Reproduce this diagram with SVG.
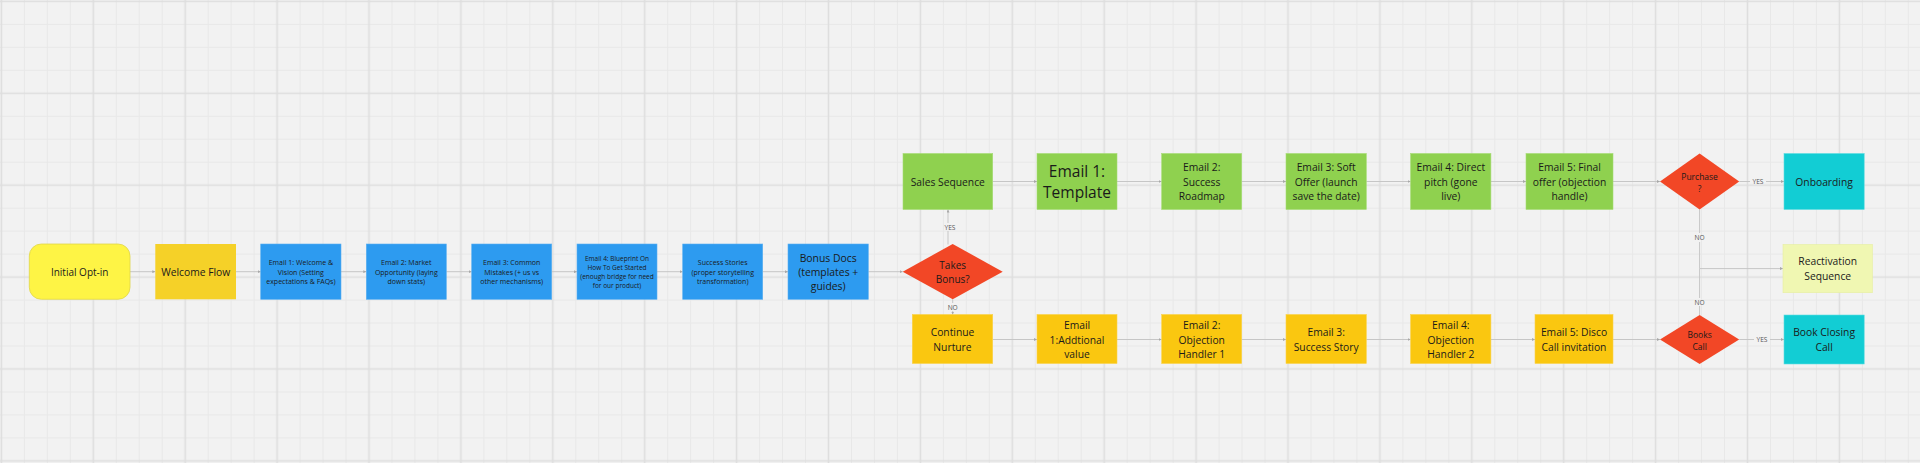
<svg xmlns="http://www.w3.org/2000/svg" width="1920" height="463" viewBox="0 0 1920 463">
<defs>
<pattern id="grid" x="-56.04" y="-56.04" width="91.9" height="91.9" patternUnits="userSpaceOnUse">
<rect width="91.9" height="91.9" fill="#f2f2f2"/>
<path d="M11.49 0V91.9M34.46 0V91.9M80.41 0V91.9M0 11.49H91.9M0 34.46H91.9M0 80.41H91.9" stroke="#e8e8e8" stroke-width="1"/>
<path d="M57.44 0V91.9M0 57.44H91.9" stroke="#dedede" stroke-width="1.6"/>
</pattern>
<marker id="arr" viewBox="0 0 6 6" refX="6" refY="3" markerWidth="3" markerHeight="3" markerUnits="userSpaceOnUse" orient="auto">
<path d="M0,0 L6,3 L0,6 z" fill="#a8a8a8"/>
</marker>
<style>
.t{font-family:"Open Sans","Noto Sans","Liberation Sans",sans-serif;fill:#1a1a1a;text-anchor:middle;dominant-baseline:central}
.s{font-size:10.3px}
.xs{font-size:7px}
.lbl{font-family:"Open Sans","Noto Sans","Liberation Sans",sans-serif;fill:#555;font-size:6.6px;text-anchor:middle;dominant-baseline:central}
.c{fill:none;stroke:#c6c6c6;stroke-width:1}
.ca{fill:none;stroke:#c6c6c6;stroke-width:1;marker-end:url(#arr)}
.blue{fill:#2d9bf0;stroke:#5bb0f0;stroke-width:0.6}
.green{fill:#8fd14f;stroke:#a6dc74;stroke-width:0.6}
.yel{fill:#fac710;stroke:#fbd24a;stroke-width:0.6}
.red{fill:#f24726}
.teal{fill:#12cdd4;stroke:#5edde1;stroke-width:0.6}
</style>
</defs>
<rect x="0" y="0" width="1920" height="463" fill="url(#grid)"/>

<g id="connectors">
<path class="ca" d="M130 271.7H155.3"/>
<path class="ca" d="M236 271.7H260.7"/>
<path class="ca" d="M341 271.7H366.3"/>
<path class="ca" d="M446.3 271.7H471.7"/>
<path class="ca" d="M551.7 271.7H577"/>
<path class="ca" d="M657 271.7H682.7"/>
<path class="ca" d="M762.7 271.7H788"/>
<path class="ca" d="M868.3 271.7H902.7"/>
<path class="c" d="M948 244.5V231"/>
<path class="ca" d="M948 223V209.5"/>
<text class="lbl" x="950" y="227">YES</text>
<path class="c" d="M952.7 299.3V303"/>
<path class="ca" d="M952.7 311V314.5"/>
<text class="lbl" x="952.7" y="307">NO</text>
<path class="ca" d="M992.7 181.5H1037"/>
<path class="ca" d="M1117 181.5H1161.7"/>
<path class="ca" d="M1241.7 181.5H1286"/>
<path class="ca" d="M1366.3 181.5H1410.6"/>
<path class="ca" d="M1490.9 181.5H1526"/>
<path class="ca" d="M1613 181.5H1660"/>
<path class="c" d="M1739.2 181.5H1750"/>
<path class="ca" d="M1766 181.5H1784"/>
<text class="lbl" x="1758" y="181.5">YES</text>
<path class="c" d="M1699.6 209.5V233"/>
<path class="ca" d="M1699.6 242V268.6H1783"/>
<text class="lbl" x="1699.6" y="237.5">NO</text>
<path class="c" d="M1699.6 315V306"/>
<path class="c" d="M1699.6 298V268.6"/>
<text class="lbl" x="1699.6" y="302">NO</text>
<path class="ca" d="M992.7 339.5H1037"/>
<path class="ca" d="M1117 339.5H1161.7"/>
<path class="ca" d="M1241.7 339.5H1286"/>
<path class="ca" d="M1366.3 339.5H1410.6"/>
<path class="ca" d="M1490.9 339.5H1535"/>
<path class="ca" d="M1613 339.5H1660"/>
<path class="c" d="M1739.2 339.5H1754"/>
<path class="ca" d="M1770 339.5H1784"/>
<text class="lbl" x="1762" y="339.5">YES</text>
</g>

<g id="initial-opt-in">
<rect x="29.3" y="244" width="100.7" height="55.3" rx="12" fill="#fef445" stroke="#e0d64a" stroke-width="0.8"/>
<text class="t" font-size="10px" x="79.7" y="271.7">Initial Opt-in</text>
</g>
<g id="welcome-flow">
<rect x="155.3" y="244" width="80.7" height="55.3" fill="#f5d128"/>
<text class="t s" x="195.7" y="271.7">Welcome Flow</text>
</g>
<g id="w-email1">
<rect class="blue" x="260.7" y="244" width="80.3" height="55.3"/>
<text class="t xs"><tspan x="300.9" y="262">Email 1: Welcome &amp;</tspan><tspan x="300.9" y="271.7">Vision (Setting</tspan><tspan x="300.9" y="281.4">expectations &amp; FAQs)</tspan></text>
</g>
<g id="w-email2">
<rect class="blue" x="366.3" y="244" width="80" height="55.3"/>
<text class="t xs"><tspan x="406.3" y="262">Email 2: Market</tspan><tspan x="406.3" y="271.7">Opportunity (laying</tspan><tspan x="406.3" y="281.4">down stats)</tspan></text>
</g>
<g id="w-email3">
<rect class="blue" x="471.7" y="244" width="80" height="55.3"/>
<text class="t xs"><tspan x="511.7" y="262">Email 3: Common</tspan><tspan x="511.7" y="271.7">Mistakes (+ us vs</tspan><tspan x="511.7" y="281.4">other mechanisms)</tspan></text>
</g>
<g id="w-email4">
<rect class="blue" x="577" y="244" width="80" height="55.3"/>
<text class="t" font-size="6.5px"><tspan x="617" y="258.2">Email 4: Blueprint On</tspan><tspan x="617" y="267.2">How To Get Started</tspan><tspan x="617" y="276.2">(enough bridge for need</tspan><tspan x="617" y="285.2">for our product)</tspan></text>
</g>
<g id="success-stories">
<rect class="blue" x="682.7" y="244" width="80" height="55.3"/>
<text class="t xs"><tspan x="722.7" y="262">Success Stories</tspan><tspan x="722.7" y="271.7">(proper storytelling</tspan><tspan x="722.7" y="281.4">transformation)</tspan></text>
</g>
<g id="bonus-docs">
<rect class="blue" x="788" y="244" width="80.3" height="55.3"/>
<text class="t" font-size="10.4px"><tspan x="828.2" y="257.7">Bonus Docs</tspan><tspan x="828.2" y="271.7">(templates +</tspan><tspan x="828.2" y="285.7">guides)</tspan></text>
</g>
<g id="takes-bonus">
<polygon class="red" points="952.7,244 1002.7,271.7 952.7,299.3 902.7,271.7"/>
<text class="t" font-size="10px"><tspan x="952.7" y="264.5">Takes</tspan><tspan x="952.7" y="278.8">Bonus?</tspan></text>
</g>

<g id="sales-sequence">
<rect class="green" x="903" y="153.5" width="89.7" height="56"/>
<text class="t s" x="947.8" y="181.5">Sales Sequence</text>
</g>
<g id="s-email1">
<rect class="green" x="1037" y="153.5" width="80" height="56"/>
<text class="t" font-size="15.5px"><tspan x="1077" y="170.6">Email 1:</tspan><tspan x="1077" y="192.4">Template</tspan></text>
</g>
<g id="s-email2">
<rect class="green" x="1161.7" y="153.5" width="80" height="56"/>
<text class="t s"><tspan x="1201.7" y="167.3">Email 2:</tspan><tspan x="1201.7" y="181.5">Success</tspan><tspan x="1201.7" y="195.7">Roadmap</tspan></text>
</g>
<g id="s-email3">
<rect class="green" x="1286" y="153.5" width="80.3" height="56"/>
<text class="t s"><tspan x="1326.2" y="167.3">Email 3: Soft</tspan><tspan x="1326.2" y="181.5">Offer (launch</tspan><tspan x="1326.2" y="195.7">save the date)</tspan></text>
</g>
<g id="s-email4">
<rect class="green" x="1410.6" y="153.5" width="80.3" height="56"/>
<text class="t s"><tspan x="1450.8" y="167.3">Email 4: Direct</tspan><tspan x="1450.8" y="181.5">pitch (gone</tspan><tspan x="1450.8" y="195.7">live)</tspan></text>
</g>
<g id="s-email5">
<rect class="green" x="1526" y="153.5" width="87" height="56"/>
<text class="t s"><tspan x="1569.5" y="167.3">Email 5: Final</tspan><tspan x="1569.5" y="181.5">offer (objection</tspan><tspan x="1569.5" y="195.7">handle)</tspan></text>
</g>
<g id="purchase">
<polygon class="red" points="1699.6,153.5 1739.2,181.5 1699.6,209.5 1660,181.5"/>
<text class="t" font-size="8.5px"><tspan x="1699.6" y="175.5">Purchase</tspan><tspan x="1699.6" y="187.5">?</tspan></text>
</g>
<g id="onboarding">
<rect class="teal" x="1784" y="153.5" width="80.2" height="56"/>
<text class="t s" x="1824.1" y="181.5">Onboarding</text>
</g>
<g id="reactivation-sequence">
<rect x="1783" y="244.5" width="89.4" height="48.2" fill="#f0f7b2" stroke="#e6efa0" stroke-width="0.6"/>
<text class="t s"><tspan x="1827.7" y="261.4">Reactivation</tspan><tspan x="1827.7" y="275.8">Sequence</tspan></text>
</g>

<g id="continue-nurture">
<rect class="yel" x="912.3" y="314.5" width="80.4" height="49"/>
<text class="t s"><tspan x="952.5" y="332.3">Continue</tspan><tspan x="952.5" y="346.7">Nurture</tspan></text>
</g>
<g id="n-email1">
<rect class="yel" x="1037" y="314.5" width="80" height="49"/>
<text class="t s"><tspan x="1077" y="325.1">Email</tspan><tspan x="1077" y="339.5">1:Addtional</tspan><tspan x="1077" y="353.9">value</tspan></text>
</g>
<g id="n-email2">
<rect class="yel" x="1161.7" y="314.5" width="80" height="49"/>
<text class="t s"><tspan x="1201.7" y="325.1">Email 2:</tspan><tspan x="1201.7" y="339.5">Objection</tspan><tspan x="1201.7" y="353.9">Handler 1</tspan></text>
</g>
<g id="n-email3">
<rect class="yel" x="1286" y="314.5" width="80.3" height="49"/>
<text class="t s"><tspan x="1326.2" y="332.3">Email 3:</tspan><tspan x="1326.2" y="346.7">Success Story</tspan></text>
</g>
<g id="n-email4">
<rect class="yel" x="1410.6" y="314.5" width="80.3" height="49"/>
<text class="t s"><tspan x="1450.8" y="325.1">Email 4:</tspan><tspan x="1450.8" y="339.5">Objection</tspan><tspan x="1450.8" y="353.9">Handler 2</tspan></text>
</g>
<g id="n-email5">
<rect class="yel" x="1535" y="314.5" width="78" height="49"/>
<text class="t s"><tspan x="1574" y="332.3">Email 5: Disco</tspan><tspan x="1574" y="346.7">Call invitation</tspan></text>
</g>
<g id="books-call">
<polygon class="red" points="1699.6,315 1739.2,339.5 1699.6,364 1660,339.5"/>
<text class="t" font-size="8.5px"><tspan x="1699.6" y="333.5">Books</tspan><tspan x="1699.6" y="345.5">Call</tspan></text>
</g>
<g id="book-closing-call">
<rect class="teal" x="1784" y="315" width="80.2" height="49"/>
<text class="t s"><tspan x="1824.1" y="332.3">Book Closing</tspan><tspan x="1824.1" y="346.7">Call</tspan></text>
</g>
</svg>
